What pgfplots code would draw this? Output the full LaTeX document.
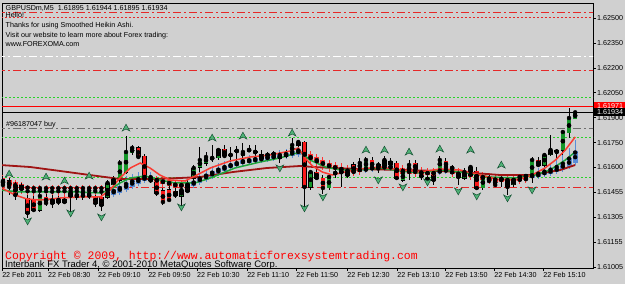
\documentclass[border=0pt]{standalone}
\usepackage{pgfplots}
\pgfplotsset{compat=1.18}
\usepackage{pgfplotstable}
\usepackage{fontspec}
\setmainfont{Liberation Sans}
\setmonofont{Liberation Mono}

\definecolor{bgc}{RGB}{208,208,208}
\definecolor{bullc}{RGB}{20,150,40}
\definecolor{bearc}{RGB}{250,25,25}
\definecolor{habl}{RGB}{90,140,215}
\definecolor{hard}{RGB}{255,50,50}
\definecolor{mared}{RGB}{250,60,50}
\definecolor{magrn}{RGB}{30,165,60}
\definecolor{maroon}{RGB}{160,20,20}
\definecolor{arrf}{RGB}{80,180,120}
\definecolor{arrd}{RGB}{20,80,50}
\definecolor{lime}{RGB}{40,210,40}
\definecolor{lvred}{RGB}{230,40,40}
\definecolor{lvgray}{RGB}{110,110,110}

\pgfdeclareplotmark{mtup}{%
  \pgfpathmoveto{\pgfqpoint{0bp}{3.8bp}}%
  \pgfpathlineto{\pgfqpoint{3.8bp}{-3bp}}%
  \pgfpathlineto{\pgfqpoint{0bp}{-1bp}}%
  \pgfpathlineto{\pgfqpoint{-3.8bp}{-3bp}}%
  \pgfpathclose
  \pgfusepathqfillstroke}
\pgfdeclareplotmark{mtdown}{%
  \pgfpathmoveto{\pgfqpoint{0bp}{-3.8bp}}%
  \pgfpathlineto{\pgfqpoint{3.8bp}{3bp}}%
  \pgfpathlineto{\pgfqpoint{0bp}{1bp}}%
  \pgfpathlineto{\pgfqpoint{-3.8bp}{3bp}}%
  \pgfpathclose
  \pgfusepathqfillstroke}

\pgfplotstableread{
i o h l c
6 1.61348 1.61456 1.61336 1.61432
11 1.61420 1.61474 1.61336 1.61450
12 1.61426 1.61450 1.61408 1.61438
13 1.61420 1.61492 1.61408 1.61450
14 1.61426 1.61462 1.61414 1.61444
17 1.61426 1.61528 1.61414 1.61510
18 1.61498 1.61552 1.61480 1.61528
19 1.61528 1.61648 1.61510 1.61630
20 1.61576 1.61792 1.61564 1.61696
21 1.61690 1.61738 1.61678 1.61720
24 1.61525 1.61546 1.61510 1.61528
29 1.61432 1.61492 1.61348 1.61468
31 1.61540 1.61618 1.61516 1.61600
32 1.61606 1.61726 1.61576 1.61648
33 1.61630 1.61696 1.61612 1.61666
34 1.61657 1.61738 1.61636 1.61660
35 1.61660 1.61720 1.61648 1.61708
37 1.61678 1.61726 1.61636 1.61678
38 1.61702 1.61732 1.61630 1.61702
39 1.61672 1.61750 1.61660 1.61696
40 1.61708 1.61738 1.61696 1.61708
41 1.61696 1.61738 1.61660 1.61696
43 1.61678 1.61696 1.61660 1.61678
44 1.61684 1.61702 1.61666 1.61684
45 1.61666 1.61696 1.61630 1.61666
46 1.61678 1.61708 1.61660 1.61678
47 1.61696 1.61780 1.61678 1.61738
48 1.61738 1.61768 1.61726 1.61756
50 1.61486 1.61588 1.61468 1.61576
53 1.61480 1.61558 1.61468 1.61546
54 1.61570 1.61588 1.61540 1.61570
55 1.61576 1.61600 1.61486 1.61576
58 1.61594 1.61660 1.61576 1.61630
59 1.61600 1.61666 1.61588 1.61648
61 1.61600 1.61636 1.61570 1.61618
62 1.61618 1.61672 1.61600 1.61648
65 1.61528 1.61600 1.61516 1.61570
66 1.61576 1.61648 1.61528 1.61618
68 1.61552 1.61570 1.61528 1.61552
69 1.61534 1.61552 1.61498 1.61534
71 1.61600 1.61672 1.61588 1.61648
73 1.61600 1.61618 1.61576 1.61600
75 1.61540 1.61600 1.61528 1.61576
76 1.61558 1.61618 1.61546 1.61606
78 1.61480 1.61558 1.61468 1.61546
81 1.61534 1.61558 1.61486 1.61534
83 1.61498 1.61540 1.61486 1.61528
84 1.61546 1.61564 1.61528 1.61546
85 1.61552 1.61564 1.61540 1.61552
86 1.61558 1.61666 1.61510 1.61648
88 1.61618 1.61690 1.61606 1.61678
89 1.61678 1.61798 1.61672 1.61708
91 1.61708 1.61828 1.61678 1.61816
92 1.61810 1.61960 1.61780 1.61900
93 1.61895 1.61944 1.61895 1.61934
}\bulltab

\pgfplotstableread{
i o h l c
0 1.61528 1.61552 1.61456 1.61498
1 1.61522 1.61540 1.61438 1.61486
2 1.61498 1.61516 1.61408 1.61438
3 1.61498 1.61510 1.61450 1.61474
4 1.61420 1.61438 1.61300 1.61330
5 1.61414 1.61432 1.61336 1.61348
7 1.61426 1.61444 1.61372 1.61390
8 1.61420 1.61438 1.61360 1.61390
9 1.61420 1.61432 1.61378 1.61396
10 1.61414 1.61426 1.61384 1.61396
15 1.61426 1.61438 1.61366 1.61390
16 1.61426 1.61444 1.61342 1.61378
22 1.61720 1.61732 1.61654 1.61666
23 1.61672 1.61684 1.61534 1.61546
25 1.61516 1.61528 1.61432 1.61450
26 1.61462 1.61480 1.61378 1.61396
27 1.61468 1.61492 1.61402 1.61408
28 1.61462 1.61480 1.61420 1.61438
30 1.61516 1.61528 1.61450 1.61462
36 1.61714 1.61738 1.61660 1.61672
42 1.61684 1.61708 1.61648 1.61660
49 1.61756 1.61762 1.61366 1.61486
51 1.61576 1.61600 1.61528 1.61540
52 1.61540 1.61558 1.61444 1.61480
56 1.61588 1.61600 1.61540 1.61558
57 1.61618 1.61636 1.61564 1.61576
60 1.61648 1.61666 1.61588 1.61600
63 1.61642 1.61660 1.61612 1.61624
64 1.61630 1.61642 1.61528 1.61540
67 1.61630 1.61648 1.61576 1.61588
70 1.61558 1.61576 1.61498 1.61528
72 1.61642 1.61660 1.61588 1.61606
74 1.61576 1.61588 1.61498 1.61546
77 1.61582 1.61606 1.61468 1.61480
79 1.61540 1.61564 1.61510 1.61522
80 1.61528 1.61546 1.61492 1.61498
82 1.61528 1.61540 1.61438 1.61486
87 1.61648 1.61666 1.61606 1.61618
90 1.61702 1.61714 1.61660 1.61696
}\beartab

\pgfplotstableread{
i hi lo whi wlo
0 1.61540 1.61504 1.61558 1.61480
1 1.61528 1.61492 1.61546 1.61468
2 1.61516 1.61480 1.61528 1.61450
3 1.61504 1.61468 1.61516 1.61444
4 1.61492 1.61474 1.61498 1.61426
5 1.61486 1.61474 1.61498 1.61426
6 1.61486 1.61474 1.61498 1.61432
7 1.61486 1.61474 1.61498 1.61426
8 1.61486 1.61474 1.61498 1.61420
9 1.61486 1.61474 1.61498 1.61426
10 1.61486 1.61474 1.61498 1.61426
11 1.61486 1.61474 1.61498 1.61432
12 1.61486 1.61474 1.61498 1.61426
13 1.61486 1.61474 1.61498 1.61426
14 1.61486 1.61474 1.61498 1.61432
15 1.61486 1.61474 1.61498 1.61426
16 1.61486 1.61474 1.61498 1.61420
25 1.61540 1.61516 1.61552 1.61498
26 1.61534 1.61504 1.61546 1.61486
27 1.61528 1.61492 1.61540 1.61474
28 1.61516 1.61486 1.61528 1.61468
29 1.61510 1.61486 1.61522 1.61468
30 1.61510 1.61492 1.61522 1.61474
49 1.61708 1.61660 1.61726 1.61636
50 1.61684 1.61648 1.61702 1.61618
51 1.61666 1.61630 1.61684 1.61600
52 1.61648 1.61612 1.61666 1.61588
53 1.61630 1.61600 1.61648 1.61576
54 1.61618 1.61588 1.61636 1.61570
55 1.61606 1.61576 1.61630 1.61558
56 1.61600 1.61570 1.61618 1.61552
57 1.61600 1.61570 1.61618 1.61552
58 1.61600 1.61576 1.61618 1.61558
64 1.61606 1.61576 1.61624 1.61552
65 1.61600 1.61564 1.61618 1.61546
66 1.61594 1.61564 1.61612 1.61546
67 1.61594 1.61564 1.61612 1.61546
68 1.61588 1.61558 1.61606 1.61540
69 1.61582 1.61558 1.61600 1.61540
70 1.61582 1.61558 1.61600 1.61540
73 1.61588 1.61564 1.61606 1.61546
74 1.61582 1.61552 1.61600 1.61528
75 1.61582 1.61552 1.61600 1.61528
76 1.61576 1.61546 1.61594 1.61528
77 1.61570 1.61534 1.61588 1.61516
78 1.61558 1.61528 1.61576 1.61510
79 1.61552 1.61522 1.61570 1.61504
80 1.61546 1.61516 1.61564 1.61498
81 1.61546 1.61516 1.61564 1.61498
82 1.61540 1.61516 1.61558 1.61492
83 1.61540 1.61516 1.61558 1.61498
84 1.61540 1.61522 1.61558 1.61504
85 1.61546 1.61528 1.61558 1.61510
}\hared

\pgfplotstableread{
i hi lo whi wlo
17 1.61462 1.61426 1.61486 1.61414
18 1.61474 1.61438 1.61498 1.61426
19 1.61492 1.61450 1.61522 1.61438
20 1.61510 1.61468 1.61552 1.61456
21 1.61528 1.61486 1.61564 1.61474
22 1.61540 1.61504 1.61576 1.61492
23 1.61552 1.61522 1.61582 1.61510
24 1.61552 1.61528 1.61576 1.61516
31 1.61522 1.61492 1.61546 1.61480
32 1.61546 1.61510 1.61576 1.61498
33 1.61564 1.61528 1.61594 1.61516
34 1.61582 1.61546 1.61612 1.61534
35 1.61600 1.61564 1.61630 1.61552
36 1.61612 1.61582 1.61642 1.61570
37 1.61624 1.61600 1.61648 1.61588
38 1.61636 1.61612 1.61660 1.61600
39 1.61648 1.61624 1.61672 1.61612
40 1.61654 1.61630 1.61678 1.61618
41 1.61660 1.61636 1.61684 1.61624
42 1.61666 1.61642 1.61690 1.61630
43 1.61672 1.61648 1.61696 1.61636
44 1.61678 1.61654 1.61702 1.61642
45 1.61684 1.61660 1.61708 1.61648
46 1.61690 1.61666 1.61714 1.61654
47 1.61702 1.61672 1.61732 1.61660
48 1.61714 1.61678 1.61744 1.61666
59 1.61600 1.61582 1.61624 1.61570
60 1.61606 1.61588 1.61630 1.61576
61 1.61606 1.61588 1.61630 1.61576
62 1.61612 1.61594 1.61636 1.61582
63 1.61612 1.61594 1.61636 1.61582
71 1.61588 1.61570 1.61612 1.61558
72 1.61594 1.61576 1.61618 1.61564
86 1.61564 1.61540 1.61588 1.61528
87 1.61570 1.61546 1.61600 1.61534
88 1.61582 1.61558 1.61612 1.61546
89 1.61594 1.61564 1.61630 1.61552
90 1.61606 1.61576 1.61648 1.61564
91 1.61630 1.61588 1.61678 1.61576
92 1.61660 1.61606 1.61720 1.61594
93 1.61702 1.61630 1.61768 1.61618
}\hablue

\pgfplotstableread{
i p
1 1.61564
7 1.61546
10 1.61522
14 1.61552
20 1.61840
34 1.61780
39 1.61792
47 1.61810
59 1.61708
62 1.61708
66 1.61696
71 1.61714
76 1.61708
81 1.61618
}\uparr

\pgfplotstableread{
i p
4 1.61282
11 1.61330
16 1.61306
29 1.61366
45 1.61600
49 1.61360
52 1.61426
61 1.61528
65 1.61486
69 1.61516
74 1.61462
77 1.61432
82 1.61420
86 1.61468
}\dnarr

\pgfplotsset{
  wick/.style={only marks, mark=none, forget plot,
    error bars/.cd, y dir=both, y explicit, error mark=none,
    error bar style={draw=#1, line width=1bp}},
  body/.style={only marks, mark=none, forget plot,
    error bars/.cd, y dir=both, y explicit, error mark=none,
    error bar style={draw=#1, line width=4.6bp, line cap=butt}},
  inbody/.style={only marks, mark=none, forget plot,
    error bars/.cd, y dir=both, y explicit, error mark=none,
    error bar style={draw=#1, line width=3.6bp, line cap=butt}},
  habar/.style={only marks, mark=none, forget plot,
    error bars/.cd, y dir=both, y explicit, error mark=none,
    error bar style={draw=#1, line width=5bp, line cap=butt}},
}

\begin{document}
\begin{tikzpicture}
\useasboundingbox (0,0) rectangle (625bp,284bp);
\fill[bgc] (0,0) rectangle (625bp,284bp);
\begin{axis}[
  at={(2bp,16bp)}, anchor=south west,
  width=591bp, height=265bp, scale only axis,
  xmin=-0.16, xmax=95.9, ymin=1.61000, ymax=1.62590,
  axis line style={black, line width=0.9bp},
  tick align=outside, major tick length=3bp,
  tick style={black, line width=0.6bp},
  xtick pos=bottom, ytick pos=right, yticklabel pos=right,
  xtick={-0.15,7.32,15.45,23.58,31.54,39.67,47.64,55.93,64.07,71.87,79.84,87.8},
  xticklabels={22 Feb 2011,22 Feb 08:30,22 Feb 09:10,22 Feb 09:50,22 Feb 10:30,22 Feb 11:10,22 Feb 11:50,22 Feb 12:30,22 Feb 13:10,22 Feb 13:50,22 Feb 14:30,22 Feb 15:10},
  ytick={1.61005,1.611545,1.61304,1.614535,1.61603,1.617525,1.61902,1.620515,1.62201,1.623505,1.625},
  yticklabels={1.61005,1.61155,1.61305,1.61455,1.61600,1.61750,1.61900,1.62050,1.62200,1.62350,1.62500},
  scaled y ticks=false,
  tick label style={font=\fontsize{7.2}{8}\selectfont, black},
  xticklabel style={anchor=north west, xshift=-1bp, inner sep=1bp},
  yticklabel style={anchor=west, inner sep=1bp},
]
% horizontal levels
\addplot[lvred, line width=1bp, dash pattern=on 8bp off 3bp on 2bp off 3bp] coordinates {(-1,1.62533) (97,1.62533)};
\addplot[lvred, line width=1bp, dash pattern=on 2bp off 2bp] coordinates {(-1,1.62503) (97,1.62503)};
\addplot[white, line width=1bp, dash pattern=on 8bp off 3bp on 2bp off 3bp] coordinates {(-1,1.62266) (97,1.62266)};
\addplot[lvred, line width=1bp, dash pattern=on 8bp off 3bp on 2bp off 3bp] coordinates {(-1,1.62182) (97,1.62182)};
\addplot[lime, line width=1bp, dash pattern=on 2bp off 2bp] coordinates {(-1,1.62020) (97,1.62020)};
\addplot[red, line width=1bp] coordinates {(-1,1.61971) (97,1.61971)};
\addplot[black, line width=1bp] coordinates {(-1,1.61934) (97,1.61934)};
\addplot[lvgray, line width=1.4bp, dash pattern=on 8bp off 3bp on 2bp off 3bp] coordinates {(-1,1.61837) (97,1.61837)};
\addplot[lime, line width=1bp, dash pattern=on 2bp off 2bp] coordinates {(-1,1.61784) (97,1.61784)};
\addplot[lime, line width=1bp, dash pattern=on 2bp off 2bp] coordinates {(-1,1.61543) (97,1.61543)};
\addplot[lvred, line width=1bp, dash pattern=on 8bp off 3bp on 2bp off 3bp] coordinates {(-1,1.61483) (97,1.61483)};

% smoothed Heikin Ashi
\addplot[wick=hard] table[x=i, y expr=(\thisrow{whi}+\thisrow{wlo})/2, y error expr=(\thisrow{whi}-\thisrow{wlo})/2] {\hared};
\addplot[wick=habl] table[x=i, y expr=(\thisrow{whi}+\thisrow{wlo})/2, y error expr=(\thisrow{whi}-\thisrow{wlo})/2] {\hablue};
\addplot[habar=hard] table[x=i, y expr=(\thisrow{hi}+\thisrow{lo})/2, y error expr=(\thisrow{hi}-\thisrow{lo})/2] {\hared};
\addplot[habar=habl] table[x=i, y expr=(\thisrow{hi}+\thisrow{lo})/2, y error expr=(\thisrow{hi}-\thisrow{lo})/2] {\hablue};

% candles
\addplot[wick=black] table[x=i, y=c, y error plus expr=\thisrow{h}-\thisrow{c}, y error minus expr=\thisrow{c}-\thisrow{l}] {\bulltab};
\addplot[wick=black] table[x=i, y=c, y error plus expr=\thisrow{h}-\thisrow{c}, y error minus expr=\thisrow{c}-\thisrow{l}] {\beartab};
\addplot[body=black] table[x=i, y expr=(\thisrow{o}+\thisrow{c})/2, y error expr=abs(\thisrow{o}-\thisrow{c})/2+0.00003] {\bulltab};
\addplot[body=black] table[x=i, y expr=(\thisrow{o}+\thisrow{c})/2, y error expr=abs(\thisrow{o}-\thisrow{c})/2+0.00003] {\beartab};
\addplot[inbody=bullc] table[x=i, y expr=(\thisrow{o}+\thisrow{c})/2, y error expr=abs(\thisrow{o}-\thisrow{c})/2] {\bulltab};
\addplot[inbody=bearc] table[x=i, y expr=(\thisrow{o}+\thisrow{c})/2, y error expr=abs(\thisrow{o}-\thisrow{c})/2] {\beartab};

% moving averages
\addplot[maroon, line width=1.8bp] coordinates {
(-0.5,1.61618) (4.4,1.61606) (9.3,1.61582) (14.1,1.61558) (19.0,1.61534) (23.9,1.61534)
(28.8,1.61540) (32.0,1.61546) (37.4,1.61576) (42.9,1.61600) (48.3,1.61612) (50.4,1.61606)
(53.7,1.61600) (58.0,1.61594) (64.6,1.61588) (71.1,1.61582) (74.3,1.61576) (80.8,1.61558)
(85.7,1.61558) (90.6,1.61588) (93.0,1.61618)};
\addplot[magrn, line width=1.5bp] coordinates {
(-0.5,1.61468) (2.8,1.61456) (6.0,1.61456) (9.3,1.61456) (12.5,1.61456) (15.8,1.61450)
(17.4,1.61468) (19.0,1.61510) (20.7,1.61540) (23.1,1.61552) (25.5,1.61528) (28.0,1.61510)
(31.2,1.61510) (33.7,1.61540) (37.7,1.61600) (41.8,1.61636) (45.0,1.61660) (48.3,1.61696)
(49.9,1.61648) (52.4,1.61606) (54.8,1.61588) (58.0,1.61588) (61.3,1.61600) (64.6,1.61582)
(67.8,1.61570) (71.1,1.61588) (74.3,1.61576) (79.2,1.61546) (83.3,1.61540) (86.5,1.61558)
(88.9,1.61588) (91.4,1.61648) (93.0,1.61696)};
\addplot[mared, line width=1.5bp] coordinates {
(-0.5,1.61486) (1.95,1.61438) (3.9,1.61414) (6.0,1.61408) (9.3,1.61420) (12.5,1.61426)
(15.8,1.61426) (17.4,1.61468) (19.0,1.61540) (20.7,1.61600) (22.3,1.61630) (23.9,1.61600)
(25.5,1.61558) (27.2,1.61528) (29.6,1.61522) (31.2,1.61552) (33.7,1.61600) (36.9,1.61642)
(40.2,1.61666) (43.4,1.61678) (46.7,1.61702) (48.0,1.61720) (49.1,1.61660) (50.3,1.61612)
(51.9,1.61576) (53.5,1.61558) (55.6,1.61576) (58.0,1.61594) (61.3,1.61606) (64.6,1.61588)
(67.8,1.61576) (71.1,1.61594) (74.3,1.61588) (77.6,1.61558) (80.8,1.61528) (83.3,1.61528)
(85.7,1.61552) (88.1,1.61600) (89.8,1.61648) (91.4,1.61708) (93.0,1.61786)};

% fractal arrows
\addplot[only marks, mark=mtup, mark options={fill=arrf, draw=arrd, line width=0.5bp}] table[x=i, y=p] {\uparr};
\addplot[only marks, mark=mtdown, mark options={fill=arrf, draw=arrd, line width=0.5bp}] table[x=i, y=p] {\dnarr};
\end{axis}

% texts
\begin{scope}[every node/.style={anchor=base west, inner sep=0pt, font=\fontsize{7.2}{8}\selectfont}]
\node at (5.5bp,273.5bp) {GBPUSDm,M5\ \ 1.61895 1.61944 1.61895 1.61934};
\node at (5.5bp,266.3bp) {Hello!};
\node at (5.5bp,256.5bp) {Thanks for using Smoothed Heikin Ashi.};
\node at (5.5bp,246.7bp) {Visit our website to learn more about Forex trading:};
\node at (5.5bp,237.2bp) {www.FOREXOMA.com};
\node at (6bp,157bp) {\#96187047 buy};
\end{scope}
\node[anchor=base west, inner sep=0pt, text=red, font=\ttfamily\fontsize{11.5}{12}\selectfont] at (5bp,25bp) {Copyright © 2009, http://www.automaticforexsystemtrading.com};
\node[anchor=base west, inner sep=0pt, font=\fontsize{9.5}{10}\selectfont] at (5bp,16.3bp) {Interbank FX Trader 4, © 2001-2010 MetaQuotes Software Corp.};

% price labels
\node[anchor=west, fill=red, text=white, inner xsep=3bp, inner ysep=0pt, minimum height=8.4bp, font=\fontsize{7.2}{8}\selectfont] at (594bp,177.8bp) {1.61971};
\node[anchor=west, fill=black, text=white, inner xsep=3bp, inner ysep=0pt, minimum height=8.4bp, font=\fontsize{7.2}{8}\selectfont] at (594bp,171.7bp) {1.61934};
\end{tikzpicture}
\end{document}
